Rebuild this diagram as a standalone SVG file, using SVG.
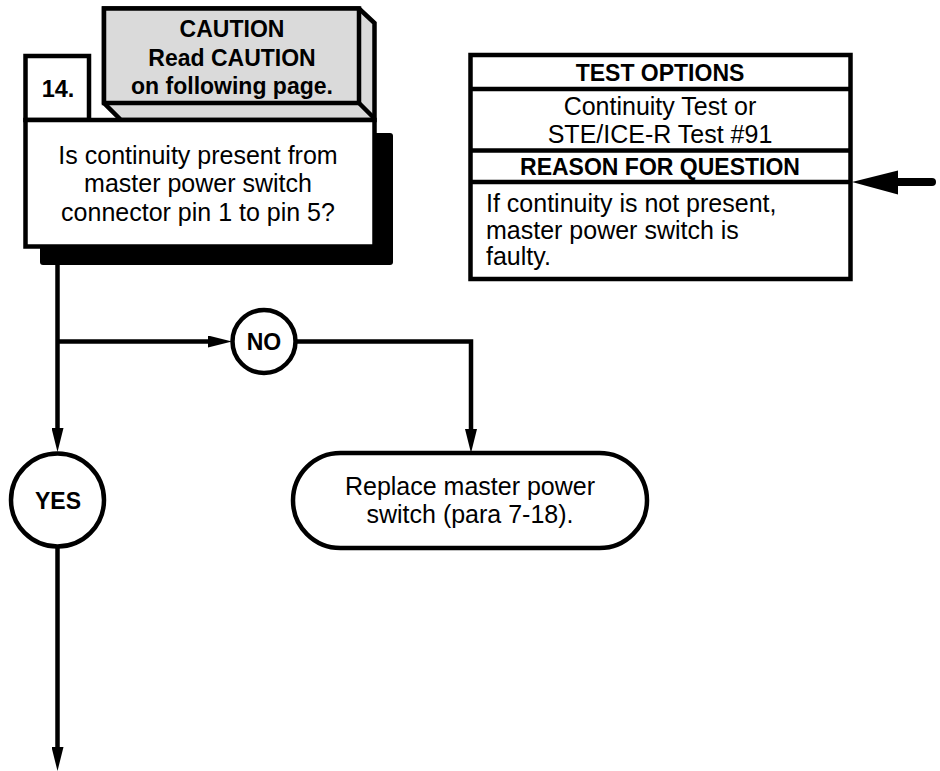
<svg xmlns="http://www.w3.org/2000/svg" width="940" height="771" viewBox="0 0 940 771">
<style>
text{font-family:"Liberation Sans",Arial,sans-serif;fill:#000}
.b{font-weight:bold;font-size:23px}
.r{font-size:25px}
.m{text-anchor:middle}
.box{fill:#fff;stroke:#000;stroke-width:4.5}
.gray{fill:#dadada;stroke:#000;stroke-width:4.5;stroke-linejoin:miter}
.ln{fill:none;stroke:#000;stroke-width:4.5}
.con{fill:none;stroke:#000;stroke-width:4.5}
</style>
<defs>
<marker id="arr" viewBox="0 0 24 12" refX="2" refY="6" markerWidth="24" markerHeight="12" markerUnits="userSpaceOnUse" orient="auto">
<path d="M0,0 L24,6 L0,12 z" fill="#000"/>
</marker>
</defs>
<rect width="940" height="771" fill="#fff"/>

<g id="caution">
<polygon class="gray" points="104,8.5 359,8.5 374.5,23 374.5,120 121,120 104,103"/>
<rect class="gray" x="104" y="8.5" width="255" height="94.5"/>
<line class="ln" x1="359" y1="103" x2="374.5" y2="118.5"/>
<text class="b m" x="232" y="37">CAUTION</text>
<text class="b m" x="232" y="65.5">Read CAUTION</text>
<text class="b m" x="232" y="94">on following page.</text>
</g>

<g id="step14">
<rect class="box" x="25.5" y="56" width="63.5" height="64"/>
<text class="b m" x="58" y="96.5" style="font-size:23.5px">14.</text>
<rect x="40" y="133" width="353" height="132" rx="3" fill="#000"/>
<rect class="box" x="25.5" y="120" width="349" height="126.5"/>
<text class="r m" x="198" y="163.5">Is continuity present from</text>
<text class="r m" x="198" y="192">master power switch</text>
<text class="r m" x="198" y="220.5">connector pin 1 to pin 5?</text>
</g>

<g id="testoptions">
<rect class="box" x="470.5" y="55" width="380" height="224"/>
<line class="ln" x1="470.5" y1="89" x2="850.5" y2="89"/>
<line class="ln" x1="470.5" y1="150.5" x2="850.5" y2="150.5"/>
<line class="ln" x1="470.5" y1="182" x2="850.5" y2="182"/>
<text class="b m" x="660" y="81">TEST OPTIONS</text>
<text class="r m" x="660" y="115">Continuity Test or</text>
<text class="r m" x="660" y="143">STE/ICE-R Test #91</text>
<text class="b m" x="660" y="175">REASON FOR QUESTION</text>
<text class="r" x="486" y="211.5">If continuity is not present,</text>
<text class="r" x="486" y="238.5">master power switch is</text>
<text class="r" x="486" y="265">faulty.</text>
</g>

<g id="no">
<circle class="box" cx="264" cy="341.5" r="31.5"/>
<text class="b m" x="264" y="349.5">NO</text>
</g>

<g id="yes">
<circle class="box" cx="57.5" cy="500" r="46.5"/>
<text class="b m" x="58" y="509">YES</text>
</g>

<g id="replace">
<rect class="box" x="293" y="453" width="354" height="95" rx="47.5" ry="47.5"/>
<text class="r m" x="470" y="495">Replace master power</text>
<text class="r m" x="470" y="523">switch (para 7-18).</text>
</g>

<g id="connectors">
<path class="con" d="M57.5,246.5 V430" marker-end="url(#arr)"/>
<path class="con" d="M57.5,341.5 H210" marker-end="url(#arr)"/>
<path class="con" d="M295.5,341.5 H471 V431" marker-end="url(#arr)"/>
<path class="con" d="M57.5,546.5 V749" marker-end="url(#arr)"/>
<line x1="896" y1="182" x2="932" y2="182" stroke="#000" stroke-width="8" stroke-linecap="round"/>
<polygon points="852,182 898,170.5 898,194.5" fill="#000"/>
</g>
</svg>
